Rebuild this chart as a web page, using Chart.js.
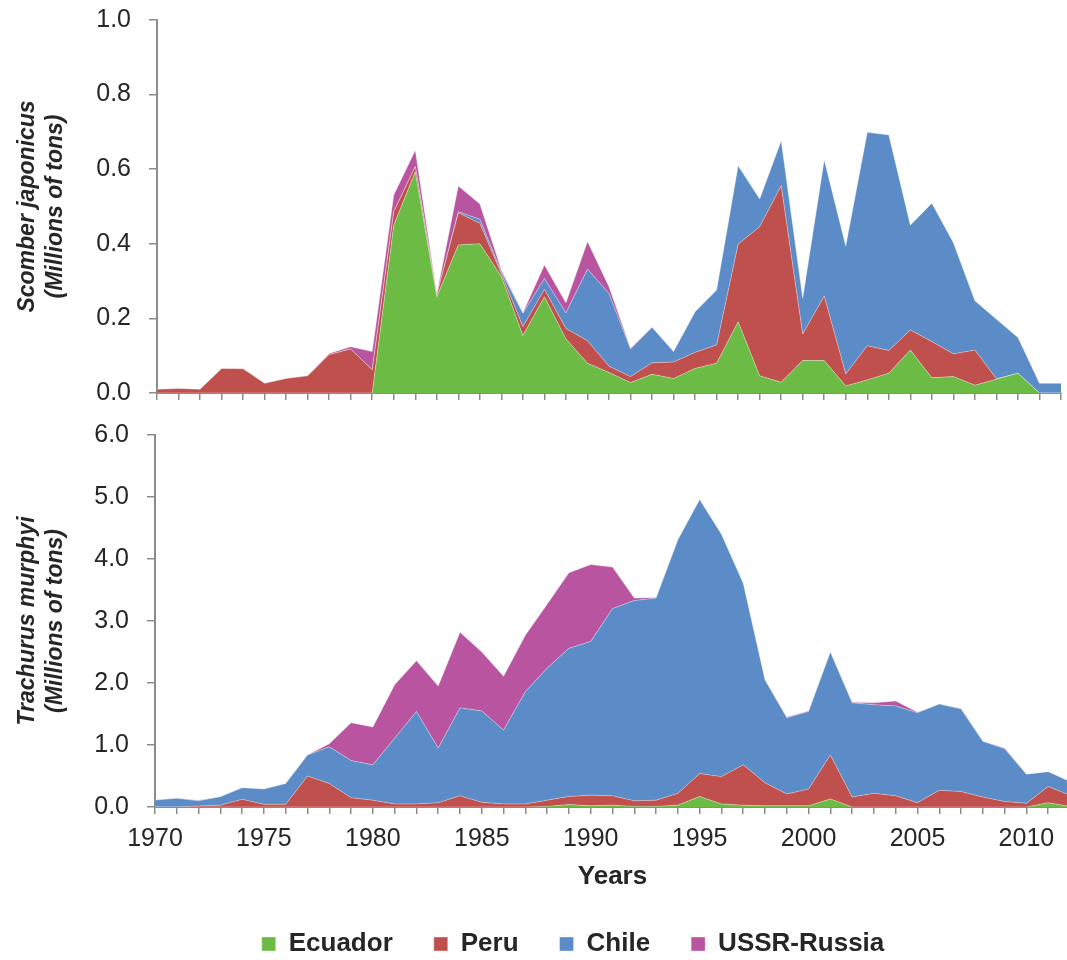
<!DOCTYPE html>
<html>
<head>
<meta charset="utf-8">
<script src="https://cdn.jsdelivr.net/npm/chart.js@4.4.1/dist/chart.umd.min.js"></script>
<style>
    html, body { margin: 0; padding: 0; background: #ffffff; overflow: hidden; }
    #page { position: relative; width: 1067px; height: 960px; overflow: hidden; }
    #topBox { position: absolute; left: 0; top: -13px; width: 1071px; height: 446px; }
    #bottomBox { position: absolute; left: 0; top: 402px; width: 1080px; height: 565px; }
</style>
</head>
<body>
<div id="page">
    <div id="topBox"><canvas id="scomberChart"></canvas></div>
    <div id="bottomBox"><canvas id="trachurusChart"></canvas></div>
</div>
<script>
// categories
const years = [
    '1970', '1971', '1972', '1973', '1974', '1975', '1976', '1977', '1978', '1979',
    '1980', '1981', '1982', '1983', '1984', '1985', '1986', '1987', '1988', '1989',
    '1990', '1991', '1992', '1993', '1994', '1995', '1996', '1997', '1998', '1999',
    '2000', '2001', '2002', '2003', '2004', '2005', '2006', '2007', '2008', '2009',
    '2010', '2011', '2012',
];
const xTickLabels = ['1970', '1975', '1980', '1985', '1990', '1995', '2000', '2005', '2010'];
const countries = ['Ecuador', 'Peru', 'Chile', 'USSR-Russia'];

// Scomber japonicus, millions of tons
const scomberEcuador = [
    0, 0, 0, 0, 0, 0, 0, 0, 0, 0,
    0, 0.45, 0.593, 0.258, 0.397, 0.4, 0.312, 0.154, 0.258, 0.145,
    0.08, 0.055, 0.028, 0.05, 0.039, 0.066, 0.08, 0.191, 0.046, 0.029,
    0.087, 0.087, 0.019, 0.035, 0.053, 0.115, 0.041, 0.044, 0.021, 0.037,
    0.053, 0, 0,
];
const scomberPeru = [
    0.01, 0.012, 0.01, 0.066, 0.065, 0.026, 0.039, 0.046, 0.103, 0.118,
    0.062, 0.036, 0.014, 0.005, 0.086, 0.055, 0.008, 0.024, 0.02, 0.028,
    0.06, 0.017, 0.016, 0.031, 0.044, 0.043, 0.049, 0.208, 0.4, 0.527,
    0.071, 0.173, 0.032, 0.092, 0.061, 0.054, 0.097, 0.061, 0.094, 0.001,
    0, 0, 0,
];
const scomberChile = [
    0, 0, 0, 0, 0, 0, 0, 0, 0, 0,
    0, 0, 0, 0, 0.003, 0.011, 0.005, 0.036, 0.029, 0.042,
    0.192, 0.195, 0.074, 0.095, 0.028, 0.109, 0.147, 0.21, 0.074, 0.12,
    0.096, 0.365, 0.343, 0.572, 0.578, 0.281, 0.371, 0.298, 0.132, 0.16,
    0.096, 0.026, 0.026,
];
const scomberUssr = [
    0, 0, 0, 0, 0, 0, 0, 0, 0.003, 0.006,
    0.049, 0.045, 0.044, 0.003, 0.069, 0.041, 0.005, 0.001, 0.036, 0.027,
    0.074, 0.018, 0.002, 0, 0, 0, 0, 0, 0, 0,
    0, 0, 0, 0, 0, 0, 0, 0, 0, 0,
    0, 0, 0,
];

// Trachurus murphyi, millions of tons
const trachurusEcuador = [
    0, 0, 0, 0, 0, 0, 0, 0, 0, 0,
    0, 0, 0, 0, 0, 0, 0, 0, 0.01, 0.04,
    0.02, 0.03, 0.01, 0.01, 0.03, 0.17, 0.05, 0.03, 0.02, 0.02,
    0.02, 0.13, 0, 0, 0, 0, 0, 0, 0, 0,
    0, 0.07, 0.01,
];
const trachurusPeru = [
    0, 0, 0.016, 0.03, 0.124, 0.043, 0.043, 0.5, 0.38, 0.15,
    0.11, 0.05, 0.05, 0.07, 0.18, 0.076, 0.05, 0.05, 0.1, 0.13,
    0.17, 0.15, 0.09, 0.1, 0.19, 0.37, 0.44, 0.65, 0.37, 0.19,
    0.27, 0.71, 0.16, 0.22, 0.18, 0.07, 0.27, 0.25, 0.16, 0.09,
    0.06, 0.26, 0.18,
];
const trachurusChile = [
    0.113, 0.14, 0.084, 0.137, 0.188, 0.247, 0.337, 0.34, 0.59, 0.6,
    0.57, 1.06, 1.49, 0.88, 1.42, 1.474, 1.19, 1.81, 2.13, 2.39,
    2.48, 3.02, 3.23, 3.26, 4.09, 4.42, 3.91, 2.93, 1.66, 1.23,
    1.25, 1.66, 1.52, 1.43, 1.45, 1.45, 1.39, 1.33, 0.9, 0.85,
    0.47, 0.24, 0.22,
];
const trachurusUssr = [
    0, 0, 0.01, 0, 0, 0, 0, 0, 0.05, 0.61,
    0.61, 0.86, 0.82, 1.0, 1.22, 0.95, 0.87, 0.91, 1.03, 1.22,
    1.24, 0.67, 0.04, 0.01, 0, 0, 0, 0, 0, 0.01,
    0.01, 0, 0.01, 0.03, 0.08, 0.01, 0, 0.01, 0, 0.01,
    0, 0, 0,
];

const COLORS = ['#6cbb45', '#c0504d', '#5b8cc8', '#b955a0'];
const AXIS = '#8c8c8c';
const INK = '#262626';
const FONT = "'Liberation Sans', Arial, sans-serif";

function buildDatasets(seriesList) {
    return seriesList.map((values, index) => ({
        label: countries[index],
        data: values,
        backgroundColor: COLORS[index],
        borderColor: 'rgba(255, 255, 255, 0.35)',
        borderWidth: 1,
        pointRadius: 0,
        tension: 0,
        fill: index === 0 ? 'origin' : '-1',
    }));
}

function xAxis(showLabels, height, title) {
    return {
        offset: false,
        ticks: {
            autoSkip: false,
            maxRotation: 0,
            minRotation: 0,
            padding: 10,
            color: INK,
            font: { family: FONT, size: 25 },
            callback(value) {
                const label = years[value];
                return showLabels && xTickLabels.includes(label) ? label : '';
            },
        },
        grid: {
            offset: false,
            drawOnChartArea: false,
            tickLength: 7,
            color: AXIS,
            lineWidth: 1.5,
        },
        border: { color: AXIS, width: 2 },
        title: title,
        afterFit(scale) {
            scale.height = height;
        },
    };
}

function yAxis(max, step, titleLines, width) {
    return {
        stacked: true,
        min: 0,
        max: max,
        ticks: {
            stepSize: step,
            padding: 18,
            color: INK,
            font: { family: FONT, size: 25 },
            callback(value) {
                return Number(value).toFixed(1);
            },
        },
        grid: {
            drawOnChartArea: false,
            tickLength: 8,
            color: AXIS,
            lineWidth: 1.5,
        },
        border: { color: AXIS, width: 2 },
        title: {
            display: true,
            text: titleLines,
            color: INK,
            font: { family: FONT, size: 23, weight: 'bold', style: 'italic', lineHeight: 1.25 },
            padding: { top: 13, bottom: 0 },
        },
        afterFit(scale) {
            scale.width = width;
        },
    };
}

// moves the legend row so it sits where the original one is
const legendShift = {
    id: 'legendShift',
    afterLayout(chart) {
        chart.legend.left += 37;
        chart.legend.right += 37;
    },
};

new Chart(document.getElementById('scomberChart'), {
    type: 'line',
    data: {
        labels: years,
        datasets: buildDatasets([scomberEcuador, scomberPeru, scomberChile, scomberUssr]),
    },
    options: {
        responsive: true,
        maintainAspectRatio: false,
        animation: false,
        layout: { padding: { top: 0, right: 2, bottom: 0, left: 0 } },
        plugins: {
            legend: { display: false },
            tooltip: { enabled: false },
        },
        scales: {
            x: xAxis(false, 40, { display: false }),
            y: yAxis(1, 0.2, ['Scomber japonicus', '(Millions of tons)'], 157),
        },
    },
});

new Chart(document.getElementById('trachurusChart'), {
    type: 'line',
    data: {
        labels: years,
        datasets: buildDatasets([trachurusEcuador, trachurusPeru, trachurusChile, trachurusUssr]),
    },
    options: {
        responsive: true,
        maintainAspectRatio: false,
        animation: false,
        layout: { padding: { top: 0, right: 8, bottom: 0, left: 0 } },
        plugins: {
            legend: {
                position: 'bottom',
                labels: {
                    boxWidth: 14,
                    boxHeight: 14,
                    padding: 41,
                    color: INK,
                    font: { family: FONT, size: 26, weight: 'bold' },
                },
            },
            tooltip: { enabled: false },
        },
        scales: {
            x: xAxis(true, 83, {
                display: true,
                text: 'Years',
                color: INK,
                font: { family: FONT, size: 26, weight: 'bold', lineHeight: 1 },
                padding: { top: 0, bottom: 0 },
            }),
            y: yAxis(6, 1, ['Trachurus murphyi', '(Millions of tons)'], 155),
        },
    },
    plugins: [legendShift],
});
</script>
</body>
</html>
